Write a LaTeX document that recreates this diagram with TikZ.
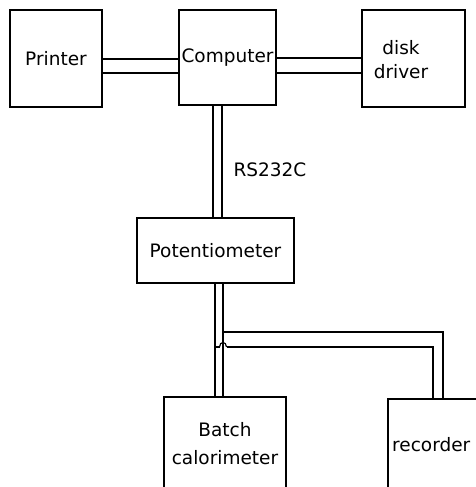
\documentclass[tikz,border=0pt]{standalone}
\usepackage{fontspec}
\setmainfont{DejaVu Sans}
\begin{document}
\begin{tikzpicture}[x=1pt,y=-1pt,
  box/.style={draw, line width=1.5pt, rectangle, inner sep=0pt, align=center, font=\fontsize{18.5}{24}\selectfont},
  lbl/.style={inner sep=0pt, align=center, font=\fontsize{18.5}{24}\selectfont},
  wire/.style={line width=1.2pt}]
\useasboundingbox (0,0) rectangle (476,487);
\clip (0,0) rectangle (476,487);
\node[box, minimum width=92pt, minimum height=97pt] (printer) at (56,58.5) {Printer};
\node[box, minimum width=97pt, minimum height=95pt] (computer) at (227.5,57.5) {Computer};
\node[box, minimum width=103pt, minimum height=97pt] (disk) at (413.5,58.5) {};
\node[lbl] (disktxt) at (401,60) {disk\\driver};
\node[box, minimum width=157pt, minimum height=65pt] (pot) at (215.5,250.5) {Potentiometer};
\node[box, minimum width=122pt, minimum height=94pt] (batch) at (225,444) {Batch\\[4pt]calorimeter};
\node[box, minimum width=102pt, minimum height=92pt] (rec) at (439,445) {};
\node[lbl, anchor=west] (rectxt) at (392,445) {recorder};
\node[lbl] (rs) at (270,170) {RS232C};
% top connections
\draw[wire] (printer.east |- 0,59) -- (computer.west |- 0,59);
\draw[wire] (printer.east |- 0,73) -- (computer.west |- 0,73);
\draw[wire] (computer.east |- 0,58) -- (disk.west |- 0,58);
\draw[wire] (computer.east |- 0,73) -- (disk.west |- 0,73);
\draw[wire] (computer.south -| 213,0) -- (pot.north -| 213,0);
\draw[wire] (computer.south -| 222,0) -- (pot.north -| 222,0);
% lower connections
\draw[wire] (pot.south -| 215,0) -- (batch.north -| 215,0);
\draw[wire] (pot.south -| 223,0) -- (batch.north -| 223,0);
\coordinate (j1) at (223,332);
\coordinate (j2) at (215,347);
\coordinate (h1) at (219.5,347);
\coordinate (h2) at (226.5,347);
\draw[wire] (j1) -- (443,332) -- (rec.north -| 443,0);
\draw[wire] (j2) -- (h1);
\draw[wire] (h1) .. controls (219.5,341) and (226.5,341) .. (h2);
\draw[wire] (h2) -- (433,347) -- (rec.north -| 433,0);
\end{tikzpicture}
\end{document}
